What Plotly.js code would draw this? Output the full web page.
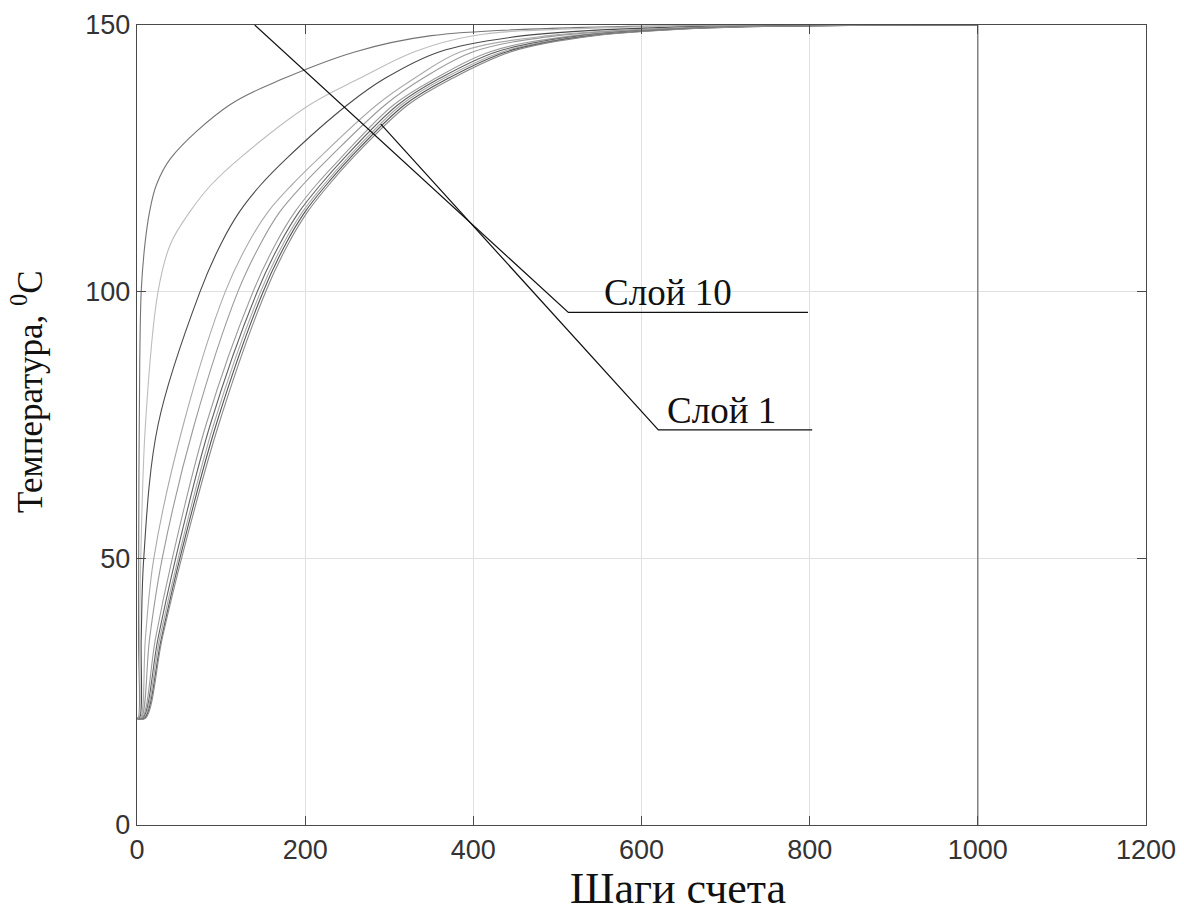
<!DOCTYPE html>
<html>
<head>
<meta charset="utf-8">
<script src="https://cdn.plot.ly/plotly-3.0.1.min.js"></script>
<style>html,body{margin:0;padding:0;background:#fff;}#chart{width:1184px;height:915px;}</style>
</head>
<body>
<div id="chart"></div>
<script>
// Temperature levels (°C) at which each layer's step count was read
const tempLevels = [20, 20, 35, 50, 75, 100, 109, 115, 120, 125, 135, 140, 145, 148, 149.5, 150, 150];

// Step counts at which each layer reaches the levels above
const layer10 = [0, 1.5, 1.8, 2, 2.7, 5, 9.5, 15, 23, 40, 110, 175, 260, 350, 520, 800, 1000];
const layer9  = [0, 2, 3, 4.5, 10, 25, 40, 63, 88, 122, 205, 265, 330, 400, 560, 830, 1000];
const layer8  = [0, 3, 5, 8, 25, 75, 100, 122, 147, 178, 250, 295, 360, 460, 620, 870, 1000];
const layer7  = [0, 4, 10, 20, 55, 105, 132, 156, 184, 216, 285, 330, 385, 490, 650, 890, 1000];
const layer6  = [0, 5, 15, 30, 68, 120, 147, 170, 197, 228, 295, 340, 400, 500, 660, 900, 1000];
const layer5  = [0, 6, 22, 42, 82, 138, 165, 188, 213, 242, 305, 355, 420, 520, 670, 910, 1000];
const layer4  = [0, 7, 25, 46, 87, 143, 170, 193, 218, 246, 310, 360, 428, 528, 675, 915, 1000];
const layer3  = [0, 8, 27, 49, 91, 147, 174, 197, 222, 250, 314, 365, 435, 535, 680, 920, 1000];
const layer2  = [0, 9, 29, 51, 94, 150, 177, 200, 225, 253, 318, 370, 440, 540, 685, 925, 1000];
const layer1  = [0, 10, 30, 53, 97, 153, 180, 203, 228, 256, 322, 375, 445, 545, 690, 930, 1000];

// End of the computation: every series drops to zero at the last step
const endSteps = [1000, 1000];
const endTemps = [150, 0];

const layerNames = ['Слой 10','Слой 9','Слой 8','Слой 7','Слой 6','Слой 5','Слой 4','Слой 3','Слой 2','Слой 1'];
const layerSteps = [layer10, layer9, layer8, layer7, layer6, layer5, layer4, layer3, layer2, layer1];
const layerColors = ['#747474','#bdbdbd','#4a4a4a','#ababab','#9a9a9a','#9c9c9c','#626262','#a8a8a8','#555555','#8a8a8a'];

// Axis ticks
const xTicks = [0, 200, 400, 600, 800, 1000, 1200];
const yTicks = [0, 50, 100, 150];

// Axis labels
const xTitle = 'Шаги счета';
const yTitle = 'Температура, <sup>0</sup>C';

// Callout labels: text, label position, leader line (start, elbow, end)
const calloutText = ['Слой 10', 'Слой 1'];
const calloutLabelX = [632, 695];
const calloutLabelY = [99.8, 77.7];
const leaderX = [[140, 513, 798], [290, 620, 803]];
const leaderY = [[150, 96.1, 96.1], [131.4, 74.1, 74.1]];

const traces = layerSteps.map((xs, i) => ({
  x: xs, y: tempLevels, type: 'scatter', mode: 'lines', name: layerNames[i],
  line: {color: layerColors[i], width: 1.1, shape: 'spline', smoothing: 1},
  hoverinfo: 'skip', showlegend: false
}));
traces.push({
  x: endSteps, y: endTemps, type: 'scatter', mode: 'lines',
  line: {color: '#6a6a6a', width: 1.2}, showlegend: false, hoverinfo: 'skip'
});
leaderX.forEach((lx, i) => traces.push({
  x: lx, y: leaderY[i], type: 'scatter', mode: 'lines',
  line: {color: '#111', width: 1.2}, showlegend: false, hoverinfo: 'skip'
}));

const serif = 'Liberation Serif, Times New Roman, serif';
const annotations = calloutText.map((t, i) => ({
  x: calloutLabelX[i], y: calloutLabelY[i], xref: 'x', yref: 'y', text: t, showarrow: false,
  font: {family: serif, size: 37, color: '#111'},
  xanchor: 'center', yanchor: 'middle'
}));
annotations.push({
  x: 643, y: 0, xref: 'x', yref: 'paper', yshift: -63, text: xTitle, showarrow: false,
  font: {family: serif, size: 44, color: '#111'}, xanchor: 'center', yanchor: 'middle'
});
annotations.push({
  x: 0, y: 0.5, xref: 'paper', yref: 'paper', xshift: -110, yshift: 33, text: yTitle, showarrow: false,
  textangle: -90, font: {family: serif, size: 35, color: '#111'}, xanchor: 'center', yanchor: 'middle'
});

const axisCommon = {
  showline: true, linecolor: '#4a4a4a', linewidth: 1.3, mirror: 'ticks',
  ticks: 'inside', ticklen: 9, tickwidth: 1.3, tickcolor: '#4a4a4a',
  showgrid: true, gridcolor: '#e0e0e0', gridwidth: 1, zeroline: false,
  tickfont: {family: 'Liberation Sans, Arial, sans-serif', size: 27, color: '#333'}
};

const layout = {
  width: 1184, height: 915,
  margin: {l: 137, r: 38, t: 25, b: 90},
  paper_bgcolor: '#fff', plot_bgcolor: '#fff',
  xaxis: Object.assign({}, axisCommon, {range: [0, 1200], tickvals: xTicks, ticktext: xTicks.map(String)}),
  yaxis: Object.assign({}, axisCommon, {range: [0, 150], tickvals: yTicks, ticktext: yTicks.map(String)}),
  annotations: annotations,
  showlegend: false
};

Plotly.newPlot('chart', traces, layout, {displayModeBar: false, staticPlot: true});
</script>
</body>
</html>
